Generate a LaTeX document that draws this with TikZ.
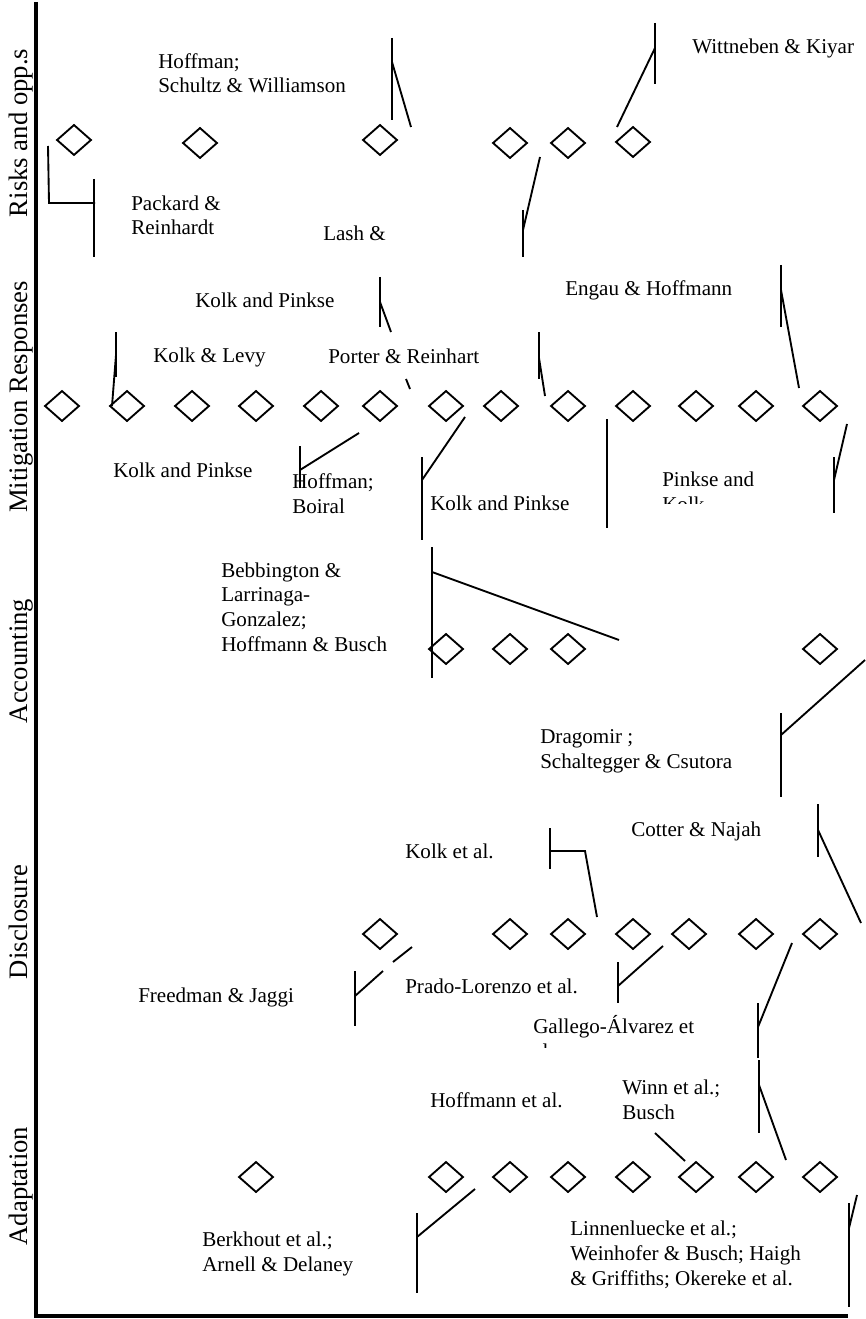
\documentclass[tikz,border=0pt]{standalone}
\usepackage{fontspec}
\setmainfont{Liberation Serif}
\usetikzlibrary{shapes.geometric}
\tikzset{axes/.style={line width=3pt}}
\tikzset{pointer/.style={line width=1.4pt}}
\tikzset{gem/.style={diamond,draw,line width=1.4pt,inner sep=0pt,minimum width=26pt,minimum height=23pt}}
\tikzset{source/.style={anchor=base west,align=left,inner sep=0pt,font=\fontsize{15.8}{18.4}\selectfont}}
\tikzset{rowlabel/.style={anchor=base,rotate=90,inner sep=0pt,font=\fontsize{20}{24}\selectfont}}

\begin{document}
\begin{tikzpicture}[x=0.75pt,y=-0.75pt]
  \useasboundingbox (0,0) rectangle (866,1319);
  \draw[axes] (36,2) -- (36,1316) -- (848,1316);

  \node[rowlabel] (risks) at (27,133) {Risks and opp.s};
  \node[rowlabel] (mitig) at (27,397) {Mitigation Responses};
  \node[rowlabel] (accnt) at (27,661) {Accounting};
  \node[rowlabel] (discl) at (27,922) {Disclosure};
  \node[rowlabel] (adapt) at (27,1186) {Adaptation};

  \foreach \x/\y [count=\i] in {74/140,200/143,380/140,510/143,568/143,633/142}
    \node[gem] (r\i) at (\x,\y) {};
  \foreach \x [count=\i] in {62,127,192,256,321,380,446,501,568,633,696,756,820}
    \node[gem] (m\i) at (\x,406) {};
  \foreach \x [count=\i] in {446,510,568,820}
    \node[gem] (a\i) at (\x,649) {};
  \foreach \x [count=\i] in {380,510,568,633,689,756,820}
    \node[gem] (d\i) at (\x,934) {};
  \foreach \x [count=\i] in {256,446,510,568,633,696,756,820}
    \node[gem] (p\i) at (\x,1177) {};

  % multi-line texts sit on the baseline of their last line
  \node[source] (hoffman) at (158,93) {Hoffman;\\Schultz \& Williamson};
  \node[source] (wittneben) at (692,54) {Wittneben \& Kiyar};
  \node[source] (packard) at (131,235) {Packard \&\\Reinhardt};
  \node[source] (lash) at (323,241) {Lash \&};
  \node[source] (kolkA) at (195,308) {Kolk and Pinkse};
  \node[source] (engau) at (565,296) {Engau \& Hoffmann};
  \node[source] (kolklevy) at (153,362) {Kolk \& Levy};
  \node[source] (porter) at (328,363) {Porter \& Reinhart};
  \node[source] (kolkB) at (113,477) {Kolk and Pinkse};
  \node[source] (boiral) at (292,513) {Hoffman;\\Boiral};
  \node[source] (kolkC) at (430,510) {Kolk and Pinkse};
  \begin{scope}
    \clip (640,450) rectangle (800,503);
    \node[source] (pinkse) at (662,511) {Pinkse and\\Kolk};
  \end{scope}
  \node[source] (bebbington) at (221,651) {Bebbington \&\\Larrinaga-\\Gonzalez;\\Hoffmann \& Busch};
  \node[source] (dragomir) at (540,768) {Dragomir ;\\Schaltegger \& Csutora};
  \node[source] (kolketal) at (405,858) {Kolk et al.};
  \node[source] (cotter) at (631,836) {Cotter \& Najah};
  \node[source] (freedman) at (138,1002) {Freedman \& Jaggi};
  \node[source] (prado) at (405,993) {Prado-Lorenzo et al.};
  \begin{scope}
    \clip (520,1010) rectangle (720,1047);
    \node[source] (gallego) at (533,1058) {Gallego-Álvarez et\\al.};
  \end{scope}
  \node[source] (hoffmann) at (430,1107) {Hoffmann et al.};
  \node[source] (winn) at (622,1119) {Winn et al.;\\Busch};
  \node[source] (linnen) at (570,1285) {Linnenluecke et al.;\\Weinhofer \& Busch; Haigh\\\& Griffiths; Okereke et al.};
  \node[source] (berkhout) at (202,1271) {Berkhout et al.;\\Arnell \& Delaney};

  \draw[pointer] (48,146) -- (49,203) -- (95,203);
  \draw[pointer] (94,179) -- (94,257);
  \draw[pointer] (392,38) -- (392,120);
  \draw[pointer] (392,62) -- (411,127);
  \draw[pointer] (655,23) -- (655,84);
  \draw[pointer] (655,48) -- (617,127);
  \draw[pointer] (540,157) -- (523,230);
  \draw[pointer] (523,210) -- (523,257);

  \draw[pointer] (380,277) -- (380,327);
  \draw[pointer] (380,302) -- (391,332);
  \draw[pointer] (116,332) -- (116,377);
  \draw[pointer] (116,355) -- (112,406);
  \draw[pointer] (406,379) -- (410,389);
  \draw[pointer] (539,332) -- (539,379);
  \draw[pointer] (539,358) -- (545,396);
  \draw[pointer] (781,265) -- (781,327);
  \draw[pointer] (781,290) -- (799,388);
  \draw[pointer] (300,446) -- (300,488);
  \draw[pointer] (300,470) -- (359,433);
  \draw[pointer] (422,457) -- (422,540);
  \draw[pointer] (422,480) -- (465,417);
  \draw[pointer] (607,419) -- (607,528);
  \draw[pointer] (834,457) -- (834,513);
  \draw[pointer] (834,480) -- (847,424);

  \draw[pointer] (432,547) -- (432,678);
  \draw[pointer] (432,572) -- (619,640);
  \draw[pointer] (781,713) -- (781,797);
  \draw[pointer] (781,735) -- (865,660);

  \draw[pointer] (550,828) -- (550,869);
  \draw[pointer] (550,851) -- (585,851) -- (597,917);
  \draw[pointer] (818,804) -- (818,857);
  \draw[pointer] (818,830) -- (861,923);
  \draw[pointer] (355,971) -- (355,1026);
  \draw[pointer] (355,996) -- (383,971);
  \draw[pointer] (393,962) -- (412,947);
  \draw[pointer] (618,962) -- (618,1003);
  \draw[pointer] (618,986) -- (663,946);
  \draw[pointer] (758,1003) -- (758,1058);
  \draw[pointer] (758,1027) -- (792,943);

  \draw[pointer] (417,1213) -- (417,1293);
  \draw[pointer] (417,1237) -- (475,1189);
  \draw[pointer] (655,1133) -- (685,1161);
  \draw[pointer] (759,1060) -- (759,1133);
  \draw[pointer] (759,1085) -- (786,1160);
  \draw[pointer] (849,1203) -- (849,1307);
  \draw[pointer] (849,1228) -- (857,1195);
\end{tikzpicture}
\end{document}
